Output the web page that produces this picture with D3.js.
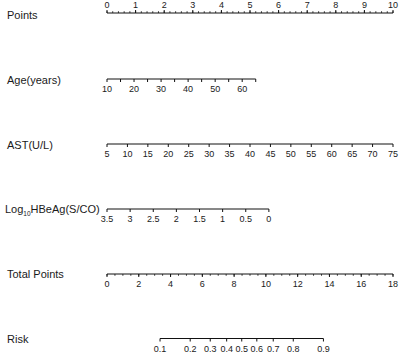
<!DOCTYPE html>
<html>
<head>
<meta charset="utf-8">
<script src="https://cdn.jsdelivr.net/npm/d3@7"></script>
<style>
  body { margin: 0; background: #fff; }
  svg { display: block; font-family: "Liberation Sans", Arial, sans-serif; }
  text { fill: #1a1a1a; }
</style>
</head>
<body>
<svg id="nomo" width="400" height="354"></svg>
<script>
// points axis
var pointTicks = [0, 1, 2, 3, 4, 5, 6, 7, 8, 9, 10];
// age: value -> points
var ageTicks = [10, 15, 20, 25, 30, 35, 40, 45, 50, 55, 60, 65];
var ageLabels = [10, 20, 30, 40, 50, 60];
var agePoints = [0, 5.2];           // points at age 10 and 65
// AST
var astTicks = [5, 10, 15, 20, 25, 30, 35, 40, 45, 50, 55, 60, 65, 70, 75];
var astPoints = [0, 10];            // points at AST 5 and 75
// log10 HBeAg
var hbeTicks = [3.5, 3, 2.5, 2, 1.5, 1, 0.5, 0];
var hbePoints = [0, 5.66];          // points at 3.5 and 0
// total points
var totalTicks = [0, 2, 4, 6, 8, 10, 12, 14, 16, 18];
// risk
var riskTicks = [0.1, 0.2, 0.3, 0.4, 0.5, 0.6, 0.7, 0.8, 0.9];
var riskMidPoints = 8.48;           // total points where risk = 0.5
var pointsPerLogit = 2.34;

var svg = d3.select('#nomo');
var left = 107, right = 393;

var xPts = d3.scaleLinear().domain([0, 10]).range([left, right]);
var xTot = d3.scaleLinear().domain([0, 18]).range([left, right]);

function varScale(ticks, pts) {
    var dom = [ticks[0], ticks[ticks.length - 1]];
    return d3.scaleLinear().domain(dom).range([xPts(pts[0]), xPts(pts[1])]);
}
var xAge = varScale(ageTicks, agePoints);
var xAst = varScale(astTicks, astPoints);
var xHbe = varScale(hbeTicks, hbePoints);
function xRisk(p) {
    var lg = Math.log(p / (1 - p));
    return xTot(riskMidPoints + pointsPerLogit * lg);
}

function rowLabel(y, txt) {
    return svg.append('text').attr('x', 7).attr('y', y).attr('dy', '0.35em')
        .style('font-size', '11px').text(txt);
}

// generic row drawing: line, ticks down, labels below
function drawRow(y, scale, ticks, labels, fmt, minor) {
    var g = svg.append('g');
    var xs = ticks.map(scale);
    g.append('line').attr('x1', d3.min(xs)).attr('x2', d3.max(xs))
        .attr('y1', y).attr('y2', y).attr('stroke', '#111').attr('stroke-width', 1);
    if (minor) {
        g.selectAll('.mn').data(minor).enter().append('line')
            .attr('x1', scale).attr('x2', scale)
            .attr('y1', y).attr('y2', y + 1.8)
            .attr('stroke', '#111').attr('stroke-width', 0.8);
    }
    g.selectAll('.tk').data(ticks).enter().append('line')
        .attr('x1', scale).attr('x2', scale)
        .attr('y1', y).attr('y2', y + 3)
        .attr('stroke', '#111').attr('stroke-width', 1);
    g.selectAll('.lb').data(labels).enter().append('text')
        .attr('x', scale).attr('y', y + 10).attr('dy', '0.35em')
        .attr('text-anchor', 'middle').style('font-size', '9px')
        .text(fmt);
}

// Points row (ticks up, labels above)
(function () {
    var y = 13;
    var g = svg.append('g');
    g.append('line').attr('x1', left).attr('x2', right).attr('y1', y).attr('y2', y)
        .attr('stroke', '#111').attr('stroke-width', 1);
    var minor = d3.range(0, 10.001, 0.2);
    g.selectAll('.mn').data(minor).enter().append('line')
        .attr('x1', xPts).attr('x2', xPts).attr('y1', y).attr('y2', y - 1.8)
        .attr('stroke', '#111').attr('stroke-width', 0.8);
    g.selectAll('.tk').data(pointTicks).enter().append('line')
        .attr('x1', xPts).attr('x2', xPts).attr('y1', y).attr('y2', y - 3)
        .attr('stroke', '#111').attr('stroke-width', 1);
    g.selectAll('.lb').data(pointTicks).enter().append('text')
        .attr('x', xPts).attr('y', 5).attr('dy', '0.35em')
        .attr('text-anchor', 'middle').style('font-size', '9px').text(d => d);
    rowLabel(y + 2, 'Points');
})();

drawRow(79, xAge, ageTicks, ageLabels, d => d);
rowLabel(80, 'Age(years)');

drawRow(144, xAst, astTicks, astTicks, d => d);
rowLabel(145, 'AST(U/L)');

drawRow(209, xHbe, hbeTicks, hbeTicks, d => d);
var lab = svg.append('text').attr('x', 5).attr('y', 209).attr('dy', '0.35em')
    .style('font-size', '11px');
lab.append('tspan').text('Log');
lab.append('tspan').attr('dy', '3').style('font-size', '6.5px').text('10');
lab.append('tspan').attr('dy', '-3').text('HBeAg(S/CO)');

drawRow(274, xTot, totalTicks, totalTicks, d => d, d3.range(0, 18.001, 0.5));
rowLabel(274, 'Total Points');

drawRow(338.5, xRisk, riskTicks, riskTicks, d => d);
rowLabel(339, 'Risk');
</script>
</body>
</html>
